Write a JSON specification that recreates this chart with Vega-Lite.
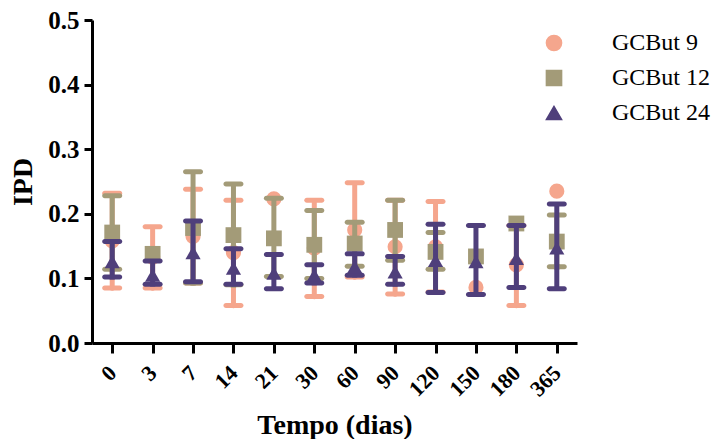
{
  "$schema": "https://vega.github.io/schema/vega-lite/v6.json",
  "autosize": "none",
  "width": 485,
  "height": 323,
  "padding": {"left": 92, "top": 20, "right": 150, "bottom": 96},
  "background": "white",
  "config": {
    "view": {"stroke": null},
    "font": "Liberation Serif"
  },
  "data": {
    "values": [
      {"dia": "0", "serie": "GCBut 9", "m": 0.158, "lo": 0.085, "hi": 0.232},
      {"dia": "3", "serie": "GCBut 9", "m": 0.133, "lo": 0.085, "hi": 0.180},
      {"dia": "7", "serie": "GCBut 9", "m": 0.165, "lo": 0.093, "hi": 0.238},
      {"dia": "14", "serie": "GCBut 9", "m": 0.140, "lo": 0.058, "hi": 0.221},
      {"dia": "21", "serie": "GCBut 9", "m": 0.223, "lo": null, "hi": null},
      {"dia": "30", "serie": "GCBut 9", "m": 0.147, "lo": 0.072, "hi": 0.221},
      {"dia": "60", "serie": "GCBut 9", "m": 0.175, "lo": 0.102, "hi": 0.248},
      {"dia": "90", "serie": "GCBut 9", "m": 0.149, "lo": 0.076, "hi": 0.221},
      {"dia": "120", "serie": "GCBut 9", "m": 0.149, "lo": 0.079, "hi": 0.219},
      {"dia": "150", "serie": "GCBut 9", "m": 0.086, "lo": null, "hi": null},
      {"dia": "180", "serie": "GCBut 9", "m": 0.121, "lo": 0.058, "hi": 0.182},
      {"dia": "365", "serie": "GCBut 9", "m": 0.235, "lo": null, "hi": null},
      {"dia": "0", "serie": "GCBut 12", "m": 0.171, "lo": 0.114, "hi": 0.228},
      {"dia": "3", "serie": "GCBut 12", "m": 0.138, "lo": null, "hi": null},
      {"dia": "7", "serie": "GCBut 12", "m": 0.178, "lo": 0.093, "hi": 0.265},
      {"dia": "14", "serie": "GCBut 12", "m": 0.167, "lo": 0.090, "hi": 0.246},
      {"dia": "21", "serie": "GCBut 12", "m": 0.162, "lo": 0.103, "hi": 0.224},
      {"dia": "30", "serie": "GCBut 12", "m": 0.152, "lo": 0.100, "hi": 0.205},
      {"dia": "60", "serie": "GCBut 12", "m": 0.154, "lo": 0.119, "hi": 0.187},
      {"dia": "90", "serie": "GCBut 12", "m": 0.175, "lo": 0.128, "hi": 0.221},
      {"dia": "120", "serie": "GCBut 12", "m": 0.141, "lo": 0.114, "hi": 0.171},
      {"dia": "150", "serie": "GCBut 12", "m": 0.134, "lo": null, "hi": null},
      {"dia": "180", "serie": "GCBut 12", "m": 0.185, "lo": null, "hi": null},
      {"dia": "365", "serie": "GCBut 12", "m": 0.157, "lo": 0.118, "hi": 0.198},
      {"dia": "0", "serie": "GCBut 24", "m": 0.126, "lo": 0.102, "hi": 0.157},
      {"dia": "3", "serie": "GCBut 24", "m": 0.105, "lo": 0.091, "hi": 0.127},
      {"dia": "7", "serie": "GCBut 24", "m": 0.140, "lo": 0.095, "hi": 0.189},
      {"dia": "14", "serie": "GCBut 24", "m": 0.116, "lo": 0.091, "hi": 0.146},
      {"dia": "21", "serie": "GCBut 24", "m": 0.108, "lo": 0.084, "hi": 0.137},
      {"dia": "30", "serie": "GCBut 24", "m": 0.105, "lo": 0.093, "hi": 0.121},
      {"dia": "60", "serie": "GCBut 24", "m": 0.118, "lo": 0.105, "hi": 0.138},
      {"dia": "90", "serie": "GCBut 24", "m": 0.110, "lo": 0.091, "hi": 0.134},
      {"dia": "120", "serie": "GCBut 24", "m": 0.128, "lo": 0.078, "hi": 0.184},
      {"dia": "150", "serie": "GCBut 24", "m": 0.126, "lo": 0.075, "hi": 0.182},
      {"dia": "180", "serie": "GCBut 24", "m": 0.131, "lo": 0.086, "hi": 0.182},
      {"dia": "365", "serie": "GCBut 24", "m": 0.147, "lo": 0.084, "hi": 0.215}
    ]
  },
  "encoding": {
    "x": {
      "field": "dia", "type": "ordinal",
      "sort": ["0","3","7","14","21","30","60","90","120","150","180","365"],
      "scale": {"type": "point", "padding": 0.5},
      "axis": {
        "title": "Tempo (dias)", "titleFont": "Liberation Serif", "titleFontSize": 28, "titleFontWeight": "bold", "titleColor": "black", "titlePadding": 11,
        "labelFont": "Liberation Serif", "labelFontSize": 22, "labelFontWeight": "bold", "labelColor": "black", "labelAngle": -45, "labelPadding": 9, "labelOffset": -7,
        "domainColor": "black", "domainWidth": 3, "tickColor": "black", "tickWidth": 3, "tickSize": 10, "grid": false
      }
    },
    "y": {
      "field": "m", "type": "quantitative",
      "scale": {"domain": [0, 0.5], "nice": false},
      "axis": {
        "title": "IPD", "titleFont": "Liberation Serif", "titleFontSize": 28, "titleFontWeight": "bold", "titleColor": "black", "titlePadding": 10,
        "labelFont": "Liberation Serif", "labelFontSize": 25, "labelFontWeight": "bold", "labelColor": "black", "format": ".1f", "values": [0, 0.1, 0.2, 0.3, 0.4, 0.5],
        "domainColor": "black", "domainWidth": 3, "tickColor": "black", "tickWidth": 3, "tickSize": 8, "grid": false, "labelPadding": 5
      }
    },
    "color": {
      "field": "serie", "type": "nominal",
      "scale": {"domain": ["GCBut 9", "GCBut 12", "GCBut 24"], "range": ["#F5A68D", "#A39B78", "#4F3F7B"]},
      "legend": {
        "title": null, "orient": "none", "legendX": 450, "legendY": 11,
        "labelFont": "Liberation Serif", "labelFontSize": 24, "labelColor": "black", "labelOffset": 46,
        "symbolSize": 230, "rowPadding": 11, "symbolOpacity": 1
      }
    },
    "shape": {
      "field": "serie", "type": "nominal",
      "scale": {"domain": ["GCBut 9", "GCBut 12", "GCBut 24"], "range": ["circle", "square", "triangle-up"]},
      "legend": null
    }
  },
  "layer": [
    {
      "transform": [{"filter": "datum.serie == 'GCBut 9'"}],
      "layer": [
        {"mark": {"type": "rule", "strokeWidth": 5}, "encoding": {"y": {"field": "lo", "type": "quantitative"}, "y2": {"field": "hi"}}},
        {"mark": {"type": "tick", "size": 20, "thickness": 5, "cornerRadius": 2.5, "opacity": 1}, "encoding": {"y": {"field": "lo", "type": "quantitative"}}},
        {"mark": {"type": "tick", "size": 20, "thickness": 5, "cornerRadius": 2.5, "opacity": 1}, "encoding": {"y": {"field": "hi", "type": "quantitative"}}},
        {"mark": {"type": "point", "filled": true, "opacity": 1, "size": 230}}
      ]
    },
    {
      "transform": [{"filter": "datum.serie == 'GCBut 12'"}],
      "layer": [
        {"mark": {"type": "rule", "strokeWidth": 5}, "encoding": {"y": {"field": "lo", "type": "quantitative"}, "y2": {"field": "hi"}}},
        {"mark": {"type": "tick", "size": 20, "thickness": 5, "cornerRadius": 2.5, "opacity": 1}, "encoding": {"y": {"field": "lo", "type": "quantitative"}}},
        {"mark": {"type": "tick", "size": 20, "thickness": 5, "cornerRadius": 2.5, "opacity": 1}, "encoding": {"y": {"field": "hi", "type": "quantitative"}}},
        {"mark": {"type": "point", "filled": true, "opacity": 1, "size": 250}}
      ]
    },
    {
      "transform": [{"filter": "datum.serie == 'GCBut 24'"}],
      "layer": [
        {"mark": {"type": "rule", "strokeWidth": 5}, "encoding": {"y": {"field": "lo", "type": "quantitative"}, "y2": {"field": "hi"}}},
        {"mark": {"type": "tick", "size": 20, "thickness": 5, "cornerRadius": 2.5, "opacity": 1}, "encoding": {"y": {"field": "lo", "type": "quantitative"}}},
        {"mark": {"type": "tick", "size": 20, "thickness": 5, "cornerRadius": 2.5, "opacity": 1}, "encoding": {"y": {"field": "hi", "type": "quantitative"}}},
        {"mark": {"type": "point", "filled": true, "opacity": 1, "size": 230}}
      ]
    }
  ]
}
